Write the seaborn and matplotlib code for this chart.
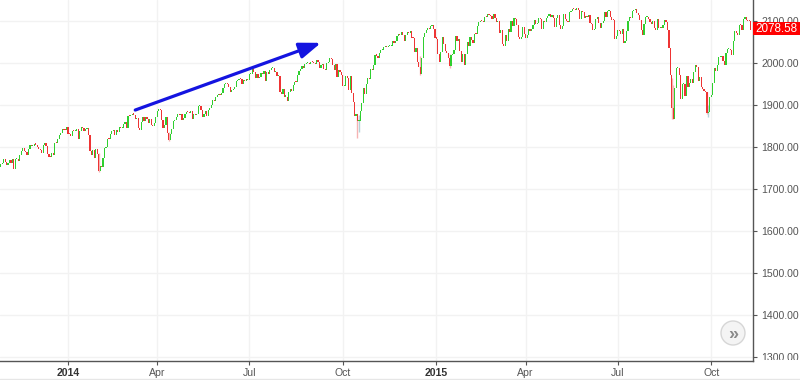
import numpy as np
import pandas as pd
import matplotlib
matplotlib.use("Agg")
import matplotlib.pyplot as plt
import seaborn as sns
from matplotlib.patches import Rectangle, Circle
from matplotlib.lines import Line2D
from matplotlib.transforms import IdentityTransform, blended_transform_factory

# ---------------- data (S&P 500 daily closes) ----------------
prev_close = 1752.07
c_2013_10 = [1759.77, 1762.11, 1771.95, 1763.31, 1756.54]
c_2013_11 = [1761.64, 1767.93, 1762.97, 1770.49, 1747.15, 1770.61, 1771.89, 1767.69, 1782.00, 1790.62,
             1798.18, 1791.53, 1787.87, 1781.37, 1795.85, 1804.76, 1802.48, 1802.75, 1807.23, 1805.81]
c_2013_12 = [1800.90, 1795.15, 1792.81, 1785.03, 1805.09, 1808.37, 1802.62, 1782.22, 1775.50, 1775.32,
             1786.54, 1781.00, 1810.65, 1809.60, 1818.32, 1827.99, 1833.32, 1842.02, 1841.40, 1841.07, 1848.36]
c_2014_01 = [1831.98, 1831.37, 1826.77, 1837.88, 1837.49, 1838.13, 1842.37, 1819.20, 1838.88, 1848.38,
             1845.89, 1838.70, 1843.80, 1844.86, 1828.46, 1790.29, 1781.56, 1792.50, 1774.20, 1794.19, 1782.59]
c_2014_02 = [1741.89, 1755.20, 1751.64, 1773.43, 1797.02, 1799.84, 1819.75, 1819.26, 1829.83, 1838.63,
             1840.76, 1828.75, 1839.78, 1836.25, 1847.61, 1845.12, 1845.16, 1854.29, 1859.45]
c_2014_03 = [1845.73, 1873.91, 1873.81, 1877.03, 1878.04, 1877.17, 1867.63, 1868.20, 1846.34, 1841.13,
             1858.83, 1872.25, 1860.77, 1872.01, 1866.52, 1857.44, 1865.62, 1852.56, 1849.04, 1857.62, 1872.34]
c_2014_04 = [1885.52, 1890.90, 1888.77, 1865.09, 1845.04, 1851.96, 1872.18, 1833.08, 1815.69, 1830.61,
             1842.98, 1862.31, 1864.85, 1871.89, 1879.55, 1875.39, 1878.61, 1863.40, 1869.43, 1878.33, 1883.95]
c_2014_05 = [1883.68, 1881.14, 1884.66, 1867.72, 1878.21, 1875.63, 1878.48, 1896.65, 1897.45, 1888.53,
             1870.85, 1877.86, 1885.08, 1872.83, 1888.03, 1892.49, 1900.53, 1911.91, 1909.78, 1920.03, 1923.57]
c_2014_06 = [1924.97, 1924.24, 1927.88, 1940.46, 1949.44, 1951.27, 1950.79, 1943.89, 1930.11, 1936.16,
             1937.78, 1941.99, 1956.98, 1959.48, 1962.87, 1962.61, 1949.98, 1959.53, 1957.22, 1960.96, 1960.23]
c_2014_07 = [1973.32, 1974.62, 1985.44, 1977.65, 1963.71, 1972.83, 1964.68, 1967.57, 1977.10, 1973.28,
             1981.57, 1958.12, 1978.22, 1973.63, 1983.53, 1987.01, 1987.98, 1978.34, 1978.91, 1969.95,
             1970.07, 1930.67]
c_2014_08 = [1925.15, 1938.99, 1920.21, 1920.24, 1909.57, 1931.59, 1936.92, 1933.75, 1946.72, 1955.18,
             1955.06, 1971.74, 1981.60, 1986.51, 1992.37, 1988.40, 1997.92, 2000.02, 2000.12, 1996.74, 2003.37]
c_2014_09 = [2002.28, 2000.72, 1997.65, 2007.71, 2001.54, 1988.44, 1995.69, 1997.45, 1985.54, 1984.13,
             1998.98, 2001.57, 2011.36, 2010.40, 1994.29, 1982.77, 1998.30, 1965.99, 1982.85, 1977.80, 1972.29]
c_2014_10 = [1946.16, 1946.17, 1967.90, 1964.82, 1935.10, 1968.89, 1928.21, 1906.13, 1874.74, 1877.70,
             1862.49, 1862.76, 1886.76, 1904.01, 1941.28, 1927.11, 1950.82, 1964.58, 1961.63, 1985.05,
             1982.30, 1994.65, 2018.05]
c_2014_11 = [2017.81, 2012.10, 2023.57, 2031.21, 2031.92, 2038.26, 2039.68, 2038.25, 2039.33, 2039.82,
             2041.32, 2051.80, 2048.72, 2052.75, 2063.50, 2069.41, 2067.03, 2072.83, 2067.56]
c_2014_12 = [2053.44, 2066.55, 2074.33, 2071.92, 2075.37, 2060.31, 2059.82, 2026.14, 2035.33, 2002.33,
             1989.63, 1972.74, 2012.89, 2061.23, 2070.65, 2078.54, 2082.17, 2081.88, 2088.77, 2090.57,
             2080.35, 2058.90]
c_2015_01 = [2058.20, 2020.58, 2002.61, 2025.90, 2062.14, 2044.81, 2028.26, 2023.03, 2011.27, 1992.67,
             2019.42, 2022.55, 2032.12, 2063.15, 2051.82, 2057.09, 2029.55, 2002.16, 2021.25, 1994.99]
c_2015_02 = [2020.85, 2050.03, 2041.51, 2062.52, 2055.47, 2046.74, 2068.59, 2068.53, 2088.48, 2096.99,
             2100.34, 2099.68, 2097.45, 2110.30, 2109.66, 2115.48, 2113.86, 2110.74, 2104.50]
c_2015_03 = [2117.39, 2107.78, 2098.53, 2101.04, 2071.26, 2079.43, 2044.16, 2040.24, 2065.95, 2053.40,
             2081.19, 2074.28, 2099.50, 2089.27, 2108.10, 2104.42, 2091.50, 2061.05, 2056.15, 2061.02,
             2086.24, 2067.89]
c_2015_04 = [2059.69, 2066.96, 2080.62, 2076.33, 2081.90, 2091.18, 2102.06, 2092.43, 2095.84, 2106.63,
             2104.99, 2081.18, 2100.40, 2097.29, 2107.96, 2112.93, 2117.69, 2108.92, 2114.76, 2106.85, 2085.51]
c_2015_05 = [2108.29, 2114.49, 2089.46, 2080.15, 2088.00, 2116.10, 2105.33, 2099.12, 2098.48, 2121.10,
             2122.73, 2129.20, 2127.83, 2125.85, 2130.82, 2126.06, 2104.20, 2123.48, 2120.79, 2107.39]
c_2015_06 = [2111.73, 2109.60, 2114.07, 2095.84, 2092.83, 2079.28, 2080.15, 2105.20, 2108.86, 2094.11,
             2084.43, 2096.29, 2100.44, 2121.24, 2109.99, 2122.85, 2124.20, 2108.58, 2102.31, 2101.49,
             2057.64, 2063.11]
c_2015_07 = [2077.42, 2076.78, 2068.76, 2081.34, 2046.68, 2051.31, 2076.62, 2099.60, 2108.95, 2107.40,
             2124.29, 2126.64, 2128.28, 2119.21, 2114.15, 2102.15, 2079.65, 2067.64, 2093.25, 2108.57,
             2108.63, 2103.84]
c_2015_08 = [2098.04, 2093.32, 2099.84, 2083.56, 2077.57, 2104.18, 2084.07, 2086.05, 2083.39, 2091.54,
             2102.44, 2096.92, 2079.61, 2035.73, 1970.89, 1893.21, 1867.61, 1940.51, 1987.66, 1988.87, 1972.18]
c_2015_09 = [1913.85, 1948.86, 1951.13, 1921.22, 1969.41, 1942.04, 1952.29, 1961.05, 1953.03, 1978.09,
             1995.31, 1990.20, 1958.03, 1966.97, 1942.74, 1938.76, 1932.24, 1931.34, 1881.77, 1884.09, 1920.03]
c_2015_10 = [1923.82, 1951.36, 1987.05, 1979.92, 1995.83, 2013.43, 2014.89, 2017.46, 2003.69, 1994.24,
             2023.86, 2033.11, 2033.66, 2030.77, 2018.94, 2052.51, 2075.15, 2071.18, 2065.89, 2090.35,
             2089.41, 2079.36]
c_2015_11 = [2104.05, 2109.79, 2102.31, 2099.93, 2099.20, 2078.58]

month_keys = ["2013-10", "2013-11", "2013-12",
              "2014-01", "2014-02", "2014-03", "2014-04", "2014-05", "2014-06",
              "2014-07", "2014-08", "2014-09", "2014-10", "2014-11", "2014-12",
              "2015-01", "2015-02", "2015-03", "2015-04", "2015-05", "2015-06",
              "2015-07", "2015-08", "2015-09", "2015-10", "2015-11"]
month_closes = [c_2013_10, c_2013_11, c_2013_12,
                c_2014_01, c_2014_02, c_2014_03, c_2014_04, c_2014_05, c_2014_06,
                c_2014_07, c_2014_08, c_2014_09, c_2014_10, c_2014_11, c_2014_12,
                c_2015_01, c_2015_02, c_2015_03, c_2015_04, c_2015_05, c_2015_06,
                c_2015_07, c_2015_08, c_2015_09, c_2015_10, c_2015_11]

# notable intraday extremes (month, trading day within month, high, low)
wick_month = ["2014-02", "2014-04", "2014-10", "2014-10", "2014-12", "2015-01",
              "2015-08", "2015-08", "2015-09", "2015-09"]
wick_day = [0, 8, 10, 11, 11, 9, 15, 16, 18, 19]
wick_high = [1784.83, 1835.07, 1874.14, 1876.01, 2016.89, 2021.35, 1965.15, 1948.04, 1931.00, 1899.48]
wick_low = [1739.66, 1814.36, 1820.66, 1835.02, 1972.56, 1988.12, 1867.01, 1867.08, 1879.00, 1871.91]

tick_months = ["2014-01", "2014-04", "2014-07", "2014-10", "2015-01", "2015-04", "2015-07", "2015-10"]
tick_labels = ["2014", "Apr", "Jul", "Oct", "2015", "Apr", "Jul", "Oct"]
y_ticks = [1300, 1400, 1500, 1600, 1700, 1800, 1900, 2000, 2100]
last_price = 2078.58

# arrow annotation: (month, trading day, level)
arrow_start = ("2014-03", 6, 1888)
arrow_end = ("2014-09", 6, 2048)

# ---------------- build frame ----------------
closes = np.concatenate([np.asarray(m, float) for m in month_closes])
starts = np.cumsum([0] + [len(m) for m in month_closes[:-1]])
start_of = dict(zip(month_keys, starts))
opens = np.concatenate([[prev_close], closes[:-1]])
df = pd.DataFrame({"i": np.arange(len(closes)), "open": opens, "close": closes})
df["up"] = df["close"] >= df["open"]
df["lo"] = df[["open", "close"]].min(axis=1)
df["h"] = (df["close"] - df["open"]).abs().clip(lower=2.6)

GREEN = "#2fcf2f"
RED = "#ee3434"
GREEN_W = "#b5d3d8"
RED_W = "#f6b3b3"

sns.set_theme(style="white")
plt.rcParams["font.family"] = ["Liberation Sans", "DejaVu Sans"]

fig = plt.figure(figsize=(8, 3.8), dpi=100)
ax = fig.add_axes([0, 19 / 380, 753 / 800, 361 / 380])

# grid
for yv in y_ticks:
    ax.axhline(yv, color="#f2f2f2", lw=1, zorder=0)
tick_pos = [start_of[m] for m in tick_months]
for xv in tick_pos:
    ax.axvline(xv, color="#f2f2f2", lw=1, zorder=0)

# wicks for notable days
for m, d, hi, lo in zip(wick_month, wick_day, wick_high, wick_low):
    k = start_of[m] + d
    col = GREEN_W if df.loc[k, "up"] else RED_W
    ax.vlines(k, lo, hi, color=col, lw=1.0, zorder=1)

# candle bodies
for up, col in [(True, GREEN), (False, RED)]:
    sub = df[df["up"] == up]
    ax.bar(sub["i"], sub["h"], bottom=sub["lo"], width=0.8, color=col,
           edgecolor="none", linewidth=0, antialiased=False, zorder=2)

ax.set_xlim(-0.5, len(closes) + 0.5)
ax.set_ylim(1290.5, 2150)

# axes styling
sns.despine(ax=ax, left=True, top=True, right=False, bottom=False)
for s in ["right", "bottom"]:
    ax.spines[s].set_color("#555555")
    ax.spines[s].set_linewidth(1)
ax.yaxis.tick_right()
ax.set_yticks(y_ticks)
ax.set_yticklabels([f"{v:.2f}" for v in y_ticks])
ax.tick_params(axis="y", right=True, length=3, width=0.8, color="#555555", pad=3,
               labelsize=7.6, labelcolor="#555555")
ax.set_xticks(tick_pos)
ax.set_xticklabels(tick_labels)
ax.tick_params(axis="x", bottom=True, length=3, width=0.8, color="#555555", pad=2,
               labelsize=7.6, labelcolor="#555555")
for lab in ax.get_xticklabels():
    if lab.get_text().isdigit():
        lab.set_fontweight("bold")
        lab.set_color("#333333")
ax.grid(False)

# last price label
bt = blended_transform_factory(ax.transAxes, ax.transData)
ax.add_patch(Rectangle((1.0, last_price - 13), 47 / 753, 31.5, transform=bt,
                       facecolor="#ff0000", edgecolor="none", clip_on=False, zorder=5))
ax.text(1.0 + 23.5 / 753, last_price + 2.5, f"{last_price:.2f}", transform=bt, ha="center",
        va="center", color="white", fontsize=8.4, clip_on=False, zorder=6)

# blue arrow
xs = start_of[arrow_start[0]] + arrow_start[1]
xe = start_of[arrow_end[0]] + arrow_end[1]
ax.annotate("", xy=(xe, arrow_end[2]), xytext=(xs, arrow_start[2]),
            arrowprops=dict(arrowstyle="-|>,head_length=0.65,head_width=0.24",
                            color="#1414e0", lw=2.3, mutation_scale=20,
                            shrinkA=0, shrinkB=0), zorder=7)

# price pane ends at the time axis: lower half of the bottom price label is hidden
fig.add_artist(Rectangle((754.5, 0), 46, 380 - 359.5, transform=IdentityTransform(),
                         facecolor="white", edgecolor="none", zorder=10))
# faint bottom border line
fig.add_artist(Line2D([0, 800], [380 - 378.5, 380 - 378.5], transform=IdentityTransform(),
                      color="#e6e6e6", lw=1, zorder=10))

# scroll button
fig.add_artist(Circle((733, 380 - 333), 12, transform=IdentityTransform(),
                      facecolor="#f4f4f4", edgecolor="#d6d6d6", lw=1.0, zorder=8))
fig.text(733, 380 - 334, "»", transform=IdentityTransform(), ha="center", va="center",
         fontsize=13, color="#8a8a8a", fontweight="bold", zorder=9)

fig.savefig("out.png", dpi=100, facecolor="white")
